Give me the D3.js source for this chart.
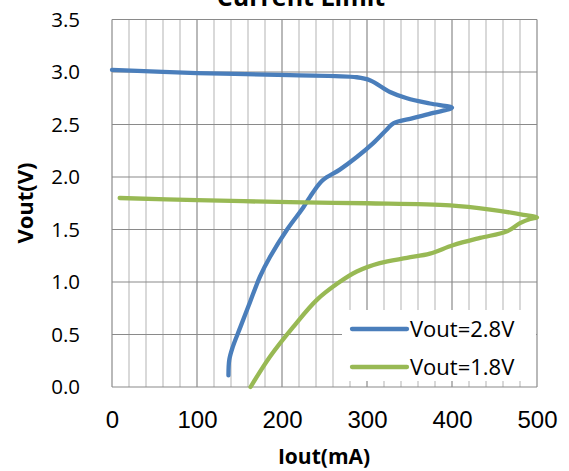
<!DOCTYPE html>
<html><head><meta charset="utf-8">
<script src="https://cdn.jsdelivr.net/npm/d3@7"></script>
<style>body{margin:0;background:#fff}svg{display:block}</style>
</head><body>
<svg id="c" width="569" height="471"></svg>
<script>
const title = "Current Limit";
const xTicks = [0,100,200,300,400,500];
const yTicks = [0,0.5,1,1.5,2,2.5,3,3.5];
const seriesNames = ["Vout=2.8V","Vout=1.8V"];
const iout28 = [0,100,209,288,304,327,347,374,400,378,354,331,323,307,288,268,248,237,225,206,186,174,162,151,142,138,137];
const vout28 = [3.02,2.99,2.97,2.95,2.92,2.81,2.75,2.70,2.66,2.61,2.56,2.51,2.45,2.32,2.19,2.07,1.97,1.86,1.71,1.50,1.24,1.05,0.80,0.57,0.38,0.26,0.11];
const iout18 = [9,100,209,300,398,445,484,500,492,480,464,433,401,374,347,315,288,266,241,213,186,163];
const vout18 = [1.80,1.78,1.76,1.75,1.73,1.69,1.64,1.615,1.60,1.56,1.48,1.42,1.35,1.27,1.23,1.18,1.10,0.99,0.83,0.57,0.29,0.0];
const colors = ["#4a7ebb","#98b954"];

const svg = d3.select("#c");
const L=112,R=537,T=19.5,B=387;
const x = d3.scaleLinear().domain([0,500]).range([L,R]);
const y = d3.scaleLinear().domain([0,3.5]).range([B,T]);
const font = "'Open Sans', sans-serif";

// gridlines
const minor = d3.range(0,501,20).filter(v=>v%100!==0);
svg.append("g").selectAll("line").data(minor).join("line")
  .attr("x1",d=>x(d)).attr("x2",d=>x(d)).attr("y1",T).attr("y2",B)
  .attr("stroke","#c0c0c0").attr("stroke-width",1.2);
svg.append("g").selectAll("line").data(xTicks).join("line")
  .attr("x1",d=>x(d)).attr("x2",d=>x(d)).attr("y1",T).attr("y2",B)
  .attr("stroke","#8a8a8a").attr("stroke-width",1.2);
svg.append("g").selectAll("line").data(yTicks).join("line")
  .attr("x1",L).attr("x2",R).attr("y1",d=>y(d)).attr("y2",d=>y(d))
  .attr("stroke","#8a8a8a").attr("stroke-width",1.2);

// axes
const ya = svg.append("g").attr("transform",`translate(${L},0)`)
  .call(d3.axisLeft(y).tickValues(yTicks).tickFormat(d3.format(".1f")).tickSize(0).tickPadding(32));
ya.select(".domain").remove();
ya.selectAll("text").attr("font-family",font).attr("font-size",20.5).attr("fill","#000");
const xa = svg.append("g").attr("transform",`translate(0,${B})`)
  .call(d3.axisBottom(x).tickValues(xTicks).tickSize(0).tickPadding(0));
xa.select(".domain").remove();
xa.selectAll("text").attr("font-family","'Liberation Sans', Arial, sans-serif").attr("font-size",24)
  .attr("fill","#000").attr("dy",null).attr("y",41);

// lines
const line = d3.line().x(d=>x(d[0])).y(d=>y(d[1])).curve(d3.curveCatmullRom.alpha(0.5));
const data = [d3.zip(iout28,vout28), d3.zip(iout18,vout18)];
svg.append("g").selectAll("path").data(data).join("path")
  .attr("d",line).attr("fill","none").attr("stroke",(d,i)=>colors[i])
  .attr("stroke-width",4.3).attr("stroke-linecap","round").attr("stroke-linejoin","round");

// legend
const lg = svg.append("g");
lg.append("rect").attr("x",342).attr("y",310).attr("width",194).attr("height",71).attr("fill","#fff");
seriesNames.forEach((n,i)=>{
  const yy = 329 + i*38;
  lg.append("line").attr("x1",352).attr("x2",407).attr("y1",yy).attr("y2",yy)
    .attr("stroke",colors[i]).attr("stroke-width",4.3).attr("stroke-linecap","round");
  lg.append("text").attr("x",410).attr("y",yy).attr("dy","0.36em")
    .attr("font-family",font).attr("font-size",22).text(n);
});

// titles
svg.append("text").attr("x",301).attr("y",6).attr("text-anchor","middle")
  .attr("font-family",font).attr("font-weight","bold").attr("font-size",25).text(title);
svg.append("text").attr("x",324).attr("y",464).attr("text-anchor","middle")
  .attr("font-family",font).attr("font-weight","bold").attr("font-size",21).text("Iout(mA)");
svg.append("text").attr("transform","translate(33,203) rotate(-90)").attr("text-anchor","middle")
  .attr("font-family",font).attr("font-weight","bold").attr("font-size",22).text("Vout(V)");
</script>
</body></html>
